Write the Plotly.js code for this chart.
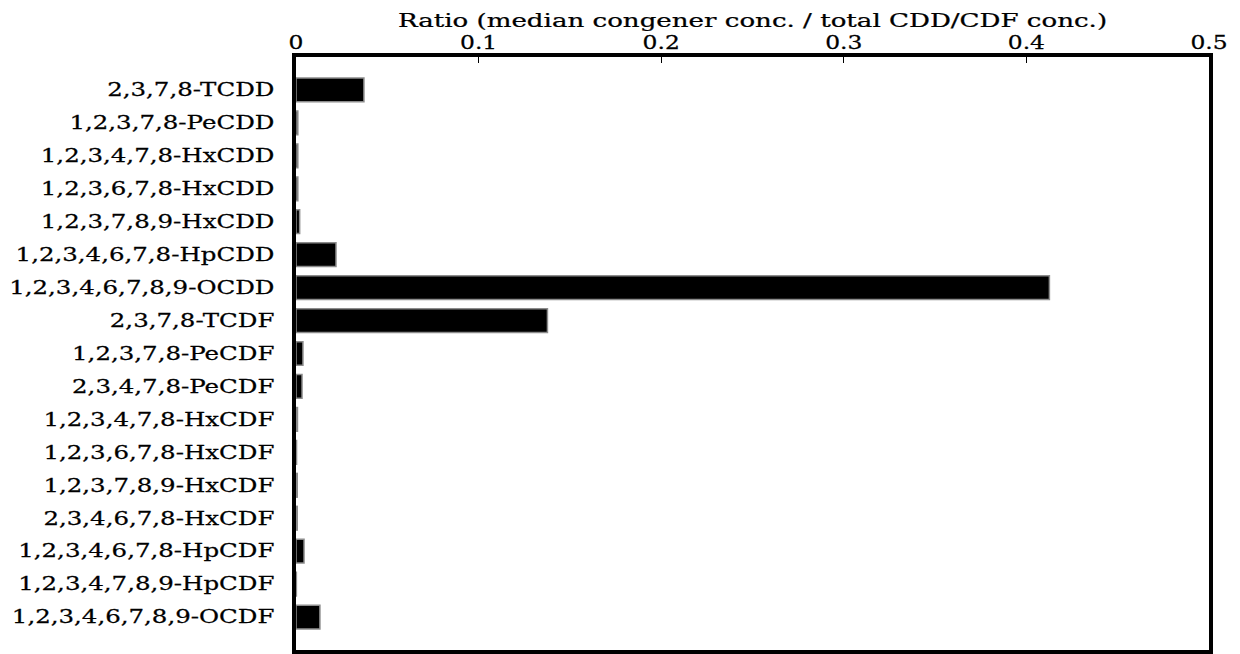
<!DOCTYPE html>
<html>
<head>
<meta charset="utf-8">
<script src="https://cdn.plot.ly/plotly-3.0.1.min.js"></script>
<style>
  html, body { margin: 0; padding: 0; background: #fff; }
  #chart { width: 1240px; height: 654px; }
  /* slightly heavier strokes for the serif lettering */
  #chart .ytick text, #chart .xtick text, #chart .g-xtitle text {
    stroke: #000; stroke-width: 0.25px; paint-order: stroke;
  }
</style>
</head>
<body>
<div id="chart"></div>
<script>
// Congener names, top to bottom
const congeners = [
  "2,3,7,8-TCDD",
  "1,2,3,7,8-PeCDD",
  "1,2,3,4,7,8-HxCDD",
  "1,2,3,6,7,8-HxCDD",
  "1,2,3,7,8,9-HxCDD",
  "1,2,3,4,6,7,8-HpCDD",
  "1,2,3,4,6,7,8,9-OCDD",
  "2,3,7,8-TCDF",
  "1,2,3,7,8-PeCDF",
  "2,3,4,7,8-PeCDF",
  "1,2,3,4,7,8-HxCDF",
  "1,2,3,6,7,8-HxCDF",
  "1,2,3,7,8,9-HxCDF",
  "2,3,4,6,7,8-HxCDF",
  "1,2,3,4,6,7,8-HpCDF",
  "1,2,3,4,7,8,9-HpCDF",
  "1,2,3,4,6,7,8,9-OCDF"
];

// Median congener concentration divided by total CDD/CDF concentration
const ratios = [
  0.0372, 0.0010, 0.0010, 0.0010, 0.0020, 0.0219, 0.4126,
  0.1377, 0.0038, 0.0033, 0.0008, 0.0003, 0.0007, 0.0007,
  0.0044, 0.0002, 0.0131
];

const xTickVals = [0, 0.1, 0.2, 0.3, 0.4, 0.5];
const xTickText = ["0", "0.1", "0.2", "0.3", "0.4", "0.5"];

const fontFamily = "'DejaVu Serif', 'Liberation Serif', serif";

const trace = {
  type: "bar",
  orientation: "h",
  x: ratios,
  y: congeners,
  marker: { color: "#000000", line: { color: "#8c8c8c", width: 1.5 } },
  hoverinfo: "x+y"
};

const layout = {
  width: 1240,
  height: 654,
  margin: { l: 296, r: 31, t: 57, b: 4, pad: 0 },
  paper_bgcolor: "#ffffff",
  plot_bgcolor: "#ffffff",
  showlegend: false,
  bargap: 0.28,
  font: { family: fontFamily, size: 16, color: "#000000" },
  xaxis: {
    side: "top",
    range: [0, 0.5],
    tickmode: "array",
    tickvals: xTickVals,
    ticktext: xTickText,
    ticks: "inside",
    ticklen: 6,
    tickwidth: 1,
    tickcolor: "#000000",
    showgrid: false,
    zeroline: false,
    showline: true,
    linewidth: 4,
    linecolor: "#000000",
    mirror: true,
    ticklabelstandoff: -3,
    tickfont: { family: fontFamily, size: 18, color: "#000000" },
    title: {
      text: "Ratio (median congener conc. / total CDD/CDF conc.)",
      font: { family: fontFamily, size: 18, color: "#000000" },
      standoff: 0
    }
  },
  yaxis: {
    type: "category",
    range: [17, -1],
    ticks: "",
    showgrid: false,
    zeroline: false,
    showline: true,
    linewidth: 4,
    linecolor: "#000000",
    mirror: true,
    ticklabelstandoff: 14,
    tickfont: { family: fontFamily, size: 18, color: "#000000" }
  }
};

// Widen the lettering horizontally about each label's anchor point
function widenText(selector, sx) {
  document.querySelectorAll(selector).forEach(function (t) {
    const x = parseFloat(t.getAttribute("x")) || 0;
    const y = parseFloat(t.getAttribute("y")) || 0;
    const base = t.getAttribute("transform") || "";
    t.setAttribute("transform",
      base + " translate(" + x + "," + y + ") scale(" + sx + ",1) translate(" + (-x) + "," + (-y) + ")");
  });
}

Plotly.newPlot("chart", [trace], layout, { displayModeBar: false, staticPlot: true })
  .then(function () {
    widenText("#chart .ytick text", 1.36);
    widenText("#chart .xtick text", 1.3);
    widenText("#chart .g-xtitle text", 1.45);
  });
</script>
</body>
</html>
